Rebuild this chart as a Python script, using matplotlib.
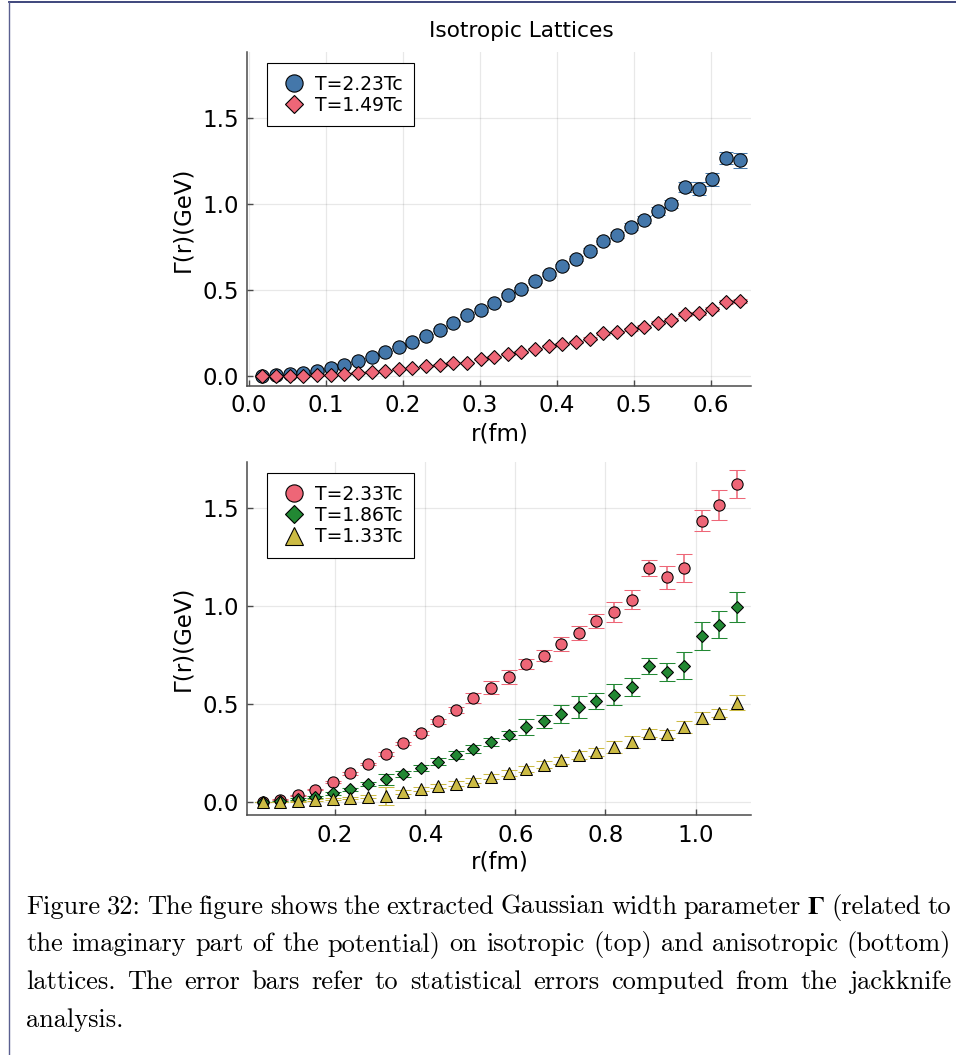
import matplotlib
matplotlib.use("Agg")
import matplotlib.pyplot as plt
from matplotlib.lines import Line2D

# ---------------- data ----------------
# isotropic lattices
r_iso = [0.0177, 0.0354, 0.0531, 0.0708, 0.0885, 0.1062, 0.1239, 0.1416, 0.1593,
         0.1770, 0.1947, 0.2124, 0.2301, 0.2478, 0.2655, 0.2832, 0.3009, 0.3186,
         0.3363, 0.3540, 0.3717, 0.3894, 0.4071, 0.4248, 0.4425, 0.4602, 0.4779,
         0.4956, 0.5133, 0.5310, 0.5487, 0.5664, 0.5841, 0.6018, 0.6195, 0.6372]
gamma_223 = [0.000, 0.004, 0.010, 0.020, 0.030, 0.045, 0.062, 0.085, 0.112, 0.140,
             0.170, 0.200, 0.234, 0.270, 0.308, 0.353, 0.384, 0.424, 0.469, 0.508,
             0.552, 0.591, 0.640, 0.682, 0.727, 0.783, 0.820, 0.868, 0.907, 0.957,
             0.998, 1.099, 1.089, 1.143, 1.266, 1.252]
err_223 = [0.002, 0.002, 0.003, 0.003, 0.004, 0.004, 0.005, 0.005, 0.006, 0.006,
           0.007, 0.007, 0.008, 0.008, 0.009, 0.009, 0.010, 0.010, 0.011, 0.011,
           0.012, 0.012, 0.013, 0.014, 0.015, 0.016, 0.017, 0.018, 0.020, 0.022,
           0.025, 0.028, 0.040, 0.038, 0.033, 0.045]
gamma_149 = [0.000, 0.000, 0.000, 0.000, 0.004, 0.008, 0.012, 0.019, 0.025, 0.031,
             0.041, 0.045, 0.056, 0.064, 0.078, 0.078, 0.099, 0.112, 0.128, 0.138,
             0.157, 0.172, 0.186, 0.200, 0.217, 0.248, 0.254, 0.271, 0.287, 0.310,
             0.326, 0.360, 0.364, 0.388, 0.430, 0.436]
err_149 = [0.001, 0.001, 0.001, 0.001, 0.002, 0.002, 0.002, 0.002, 0.003, 0.003,
           0.003, 0.003, 0.004, 0.004, 0.004, 0.004, 0.005, 0.005, 0.005, 0.005,
           0.006, 0.006, 0.006, 0.006, 0.007, 0.007, 0.007, 0.008, 0.008, 0.008,
           0.009, 0.009, 0.010, 0.010, 0.011, 0.011]

# anisotropic lattices
r_aniso = [0.039, 0.078, 0.117, 0.156, 0.195, 0.234, 0.273, 0.312, 0.351, 0.390,
           0.429, 0.468, 0.507, 0.546, 0.585, 0.624, 0.663, 0.702, 0.741, 0.780,
           0.819, 0.858, 0.897, 0.936, 0.975, 1.014, 1.053, 1.092]
gamma_233 = [0.000, 0.012, 0.034, 0.063, 0.102, 0.146, 0.194, 0.245, 0.299, 0.354,
             0.412, 0.471, 0.529, 0.583, 0.639, 0.704, 0.747, 0.806, 0.864, 0.925,
             0.971, 1.032, 1.194, 1.146, 1.196, 1.435, 1.515, 1.621]
err_233 = [0.001, 0.002, 0.003, 0.004, 0.005, 0.006, 0.007, 0.008, 0.009, 0.010,
           0.012, 0.015, 0.026, 0.033, 0.037, 0.027, 0.027, 0.036, 0.036, 0.036,
           0.050, 0.048, 0.039, 0.058, 0.071, 0.054, 0.077, 0.071]
gamma_186 = [0.000, 0.003, 0.015, 0.027, 0.044, 0.065, 0.090, 0.116, 0.143, 0.173,
             0.206, 0.238, 0.272, 0.308, 0.340, 0.383, 0.412, 0.449, 0.485, 0.517,
             0.548, 0.588, 0.694, 0.663, 0.696, 0.849, 0.905, 0.997]
err_186 = [0.001, 0.002, 0.004, 0.005, 0.006, 0.008, 0.010, 0.028, 0.015, 0.015,
           0.017, 0.020, 0.020, 0.020, 0.020, 0.040, 0.033, 0.047, 0.054, 0.040,
           0.054, 0.046, 0.042, 0.044, 0.069, 0.072, 0.070, 0.077]
gamma_133 = [0.000, 0.000, 0.003, 0.010, 0.014, 0.020, 0.027, 0.031, 0.053, 0.065,
             0.082, 0.094, 0.109, 0.129, 0.148, 0.167, 0.190, 0.214, 0.238, 0.253,
             0.281, 0.308, 0.354, 0.347, 0.381, 0.427, 0.452, 0.507]
err_133 = [0.001, 0.002, 0.003, 0.004, 0.005, 0.006, 0.008, 0.045, 0.010, 0.010,
           0.012, 0.012, 0.013, 0.014, 0.015, 0.016, 0.017, 0.018, 0.020, 0.020,
           0.030, 0.030, 0.020, 0.020, 0.030, 0.030, 0.020, 0.040]

labels_iso = ["T=2.23Tc", "T=1.49Tc"]
labels_aniso = ["T=2.33Tc", "T=1.86Tc", "T=1.33Tc"]
iso_ticks_x = [0.0, 0.1, 0.2, 0.3, 0.4, 0.5, 0.6]
aniso_ticks_x = [0.2, 0.4, 0.6, 0.8, 1.0]
ticks_y = [0.0, 0.5, 1.0, 1.5]

caption_lines = [
    "Figure 32: The figure shows the extracted Gaussian width parameter $\\mathbf{\\Gamma}$ (related to",
    "the imaginary part of the potential) on isotropic (top) and anisotropic (bottom)",
    "lattices. The error bars refer to statistical errors computed from the jackknife",
    "analysis.",
]

# ---------------- style ----------------
BLUE = "#4477AA"
RED = "#EE6677"
GREEN = "#228833"
YELLOW = "#CCBB44"
AXCOL = "#4a4a4a"

plt.rcParams["font.family"] = ["DejaVu Sans"]
plt.rcParams["mathtext.fontset"] = "cm"

W, H = 956, 1055
fig = plt.figure(figsize=(W / 100, H / 100), dpi=100)
fig.patch.set_facecolor("white")


def px_axes(left, top, right, bottom):
    return fig.add_axes([left / W, 1 - bottom / H, (right - left) / W, (bottom - top) / H])


def style_axes(ax):
    for side in ("top", "right"):
        ax.spines[side].set_visible(False)
    for side in ("left", "bottom"):
        ax.spines[side].set_color(AXCOL)
        ax.spines[side].set_linewidth(1.1)
    ax.tick_params(direction="in", length=4, width=1, color=AXCOL,
                   labelsize=16.5, labelcolor="black", pad=6)
    ax.grid(True, color="#000000", alpha=0.09, linewidth=0.9)
    ax.set_axisbelow(True)


def series(ax, x, y, e, color, marker, ms, capcolor, capsize, label):
    line, caps, bars = ax.errorbar(
        x, y, yerr=e, fmt=marker, ms=ms, mfc=color, mec="black", mew=0.75,
        ecolor=color, elinewidth=1.1, capsize=capsize, capthick=1.1, label=label)
    for c in caps:
        c.set_color(capcolor)
    return line


def key(color, marker, ms):
    # marker-only proxy for the legend
    return Line2D([], [], linestyle="none", marker=marker, ms=ms, mfc=color,
                  mec="black", mew=0.8)


def add_legend(ax, handles, labels, anchor_y):
    leg = ax.legend(handles, labels, loc="upper left", bbox_to_anchor=(0.039, anchor_y),
                    borderaxespad=0, fontsize=13.5, frameon=True,
                    fancybox=False, edgecolor="black", framealpha=1, labelspacing=0.12,
                    handletextpad=0.35, handlelength=1.6, borderpad=0.62)
    leg.get_frame().set_linewidth(0.8)
    return leg


# ---- top panel: isotropic ----
ax1 = px_axes(247.3, 52.3, 750.7, 386)
style_axes(ax1)
series(ax1, r_iso, gamma_223, err_223, BLUE, "o", 9.6, BLUE, 4.8, labels_iso[0])
series(ax1, r_iso, gamma_149, err_149, RED, "D", 6.8, RED, 4.8, labels_iso[1])
ax1.set_xlim(-0.002, 0.6516)
ax1.set_ylim(-0.058, 1.88)
ax1.set_xticks(iso_ticks_x)
ax1.set_xticklabels([f"{v:.1f}" for v in iso_ticks_x])
ax1.set_yticks(ticks_y)
ax1.set_yticklabels([f"{v:.1f}" for v in ticks_y])
add_legend(ax1, [key(BLUE, "o", 12.4), key(RED, "D", 8.7)], labels_iso, 0.968)

# ---- bottom panel: anisotropic ----
ax2 = px_axes(247.3, 462, 750.7, 815.3)
style_axes(ax2)
series(ax2, r_aniso, gamma_233, err_233, RED, "o", 8.1, RED, 5.6, labels_aniso[0])
series(ax2, r_aniso, gamma_186, err_186, GREEN, "D", 6.5, "black", 5.6, labels_aniso[1])
series(ax2, r_aniso, gamma_133, err_133, YELLOW, "^", 8.6, "#333333", 5.6, labels_aniso[2])
ax2.set_xlim(0.005, 1.1225)
ax2.set_ylim(-0.068, 1.735)
ax2.set_xticks(aniso_ticks_x)
ax2.set_xticklabels([f"{v:.1f}" for v in aniso_ticks_x])
ax2.set_yticks(ticks_y)
ax2.set_yticklabels([f"{v:.1f}" for v in ticks_y])
add_legend(ax2, [key(RED, "o", 12.4), key(GREEN, "D", 8.7), key(YELLOW, "^", 13.0)],
           labels_aniso, 0.969)

# ---- titles and axis labels ----
fig.text(521.7 / W, 1 - 30.7 / H, "Isotropic Lattices", ha="center", va="center", fontsize=15.6)
fig.text(500 / W, 1 - 434 / H, "r(fm)", ha="center", va="center", fontsize=16.5)
fig.text(500 / W, 1 - 862 / H, "r(fm)", ha="center", va="center", fontsize=16.5)
fig.text(183 / W, 1 - 219 / H, "Γ(r)(GeV)", ha="center", va="center", rotation=90, fontsize=16.5)
fig.text(183 / W, 1 - 638 / H, "Γ(r)(GeV)", ha="center", va="center", rotation=90, fontsize=16.5)

# ---- page border ----
fig.add_artist(Line2D([9 / W, 1.0], [1 - 2 / H, 1 - 2 / H], transform=fig.transFigure,
                      color="#2f3872", linewidth=1.3))
fig.add_artist(Line2D([9 / W, 9 / W], [0.0, 1 - 2 / H], transform=fig.transFigure,
                      color="#5a6090", linewidth=1.0))

# ---- justified caption ----
renderer = fig.canvas.get_renderer()
cap_left, cap_right = 26.0, 951.0
baselines = [914, 951, 989, 1027]
cap_size = 19.0


def caption_line(text, base, justify):
    words = text.split(" ")
    arts = []
    for w in words:
        kw = dict(fontsize=cap_size, family="cmr10", ha="left", va="baseline")
        if w.startswith("$"):
            kw["math_fontfamily"] = "stix"
        arts.append(fig.text(0, 1 - base / H, w, **kw))
    widths = [a.get_window_extent(renderer).width for a in arts]
    if justify and len(words) > 1:
        gap = (cap_right - cap_left - sum(widths)) / (len(words) - 1)
    else:
        gap = cap_size * 100 / 72 * 0.333
    x = cap_left
    for a, w in zip(arts, widths):
        a.set_x(x / W)
        x += w + gap


for i, line in enumerate(caption_lines):
    caption_line(line, baselines[i], i < len(caption_lines) - 1)

fig.savefig("out.png", dpi=100, facecolor="white")
